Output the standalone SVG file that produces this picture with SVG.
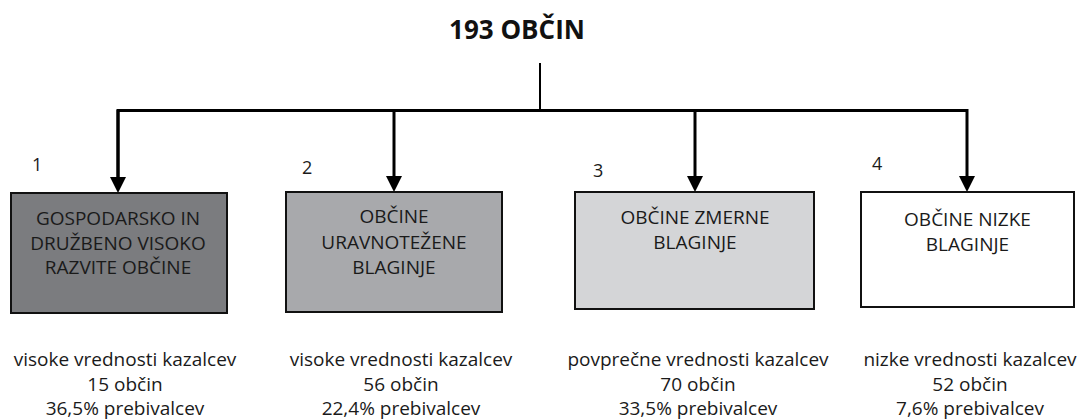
<svg xmlns="http://www.w3.org/2000/svg" width="1080" height="420" viewBox="0 0 1080 420">
<style>
  .t{font-family:"Open Sans","Noto Sans","DejaVu Sans",sans-serif;font-size:19px;fill:#1a1a1a;text-anchor:middle}
  .n{font-family:"Open Sans","Noto Sans","DejaVu Sans",sans-serif;font-size:18px;fill:#1a1a1a}
  .title{font-family:"Open Sans","Noto Sans","DejaVu Sans",sans-serif;font-size:26px;font-weight:bold;fill:#111;text-anchor:middle}
  .box{stroke:#111;stroke-width:2}
  .c{fill:none;stroke:#000;stroke-width:3}
</style>
<defs>
  <marker id="ah" viewBox="0 0 16 16" refX="0" refY="8" markerWidth="16" markerHeight="16" markerUnits="userSpaceOnUse" orient="auto">
    <path d="M0,0 L16,8 L0,16 z" fill="#000"/>
  </marker>
</defs>
<rect width="1080" height="420" fill="#fff"/>
<g id="title">
  <text class="title" x="517" y="39">193 OBČIN</text>
</g>
<g id="connectors">
  <line x1="540" y1="63" x2="540" y2="110" stroke="#000" stroke-width="2"/>
  <path class="c" d="M118,177 L118,110.5 L967,110.5 L967,176" marker-end="url(#ah)"/>
  <line class="c" x1="118" y1="110" x2="118" y2="177" marker-end="url(#ah)"/>
  <line class="c" x1="394" y1="110" x2="394" y2="176" marker-end="url(#ah)"/>
  <line class="c" x1="695" y1="110" x2="695" y2="176" marker-end="url(#ah)"/>
</g>
<g id="node1">
  <rect class="box" x="11" y="193" width="216" height="120" fill="#7b7c7f"/>
  <text class="t" x="118" y="225">GOSPODARSKO IN</text>
  <text class="t" x="118" y="250">DRUŽBENO VISOKO</text>
  <text class="t" x="118" y="274">RAZVITE OBČINE</text>
  <text class="n" x="32" y="171">1</text>
  <text class="t" x="125" y="366">visoke vrednosti kazalcev</text>
  <text class="t" x="125" y="391">15 občin</text>
  <text class="t" x="125" y="415">36,5% prebivalcev</text>
</g>
<g id="node2">
  <rect class="box" x="286" y="192" width="216" height="120" fill="#a8a9ac"/>
  <text class="t" x="394" y="223">OBČINE</text>
  <text class="t" x="394" y="248.5">URAVNOTEŽENE</text>
  <text class="t" x="394" y="274">BLAGINJE</text>
  <text class="n" x="302" y="174">2</text>
  <text class="t" x="401" y="366">visoke vrednosti kazalcev</text>
  <text class="t" x="401" y="391">56 občin</text>
  <text class="t" x="401" y="415">22,4% prebivalcev</text>
</g>
<g id="node3">
  <rect class="box" x="575" y="192" width="239" height="117" fill="#d4d5d7"/>
  <text class="t" x="695" y="224">OBČINE ZMERNE</text>
  <text class="t" x="695" y="249">BLAGINJE</text>
  <text class="n" x="593" y="177">3</text>
  <text class="t" x="698" y="366">povprečne vrednosti kazalcev</text>
  <text class="t" x="698" y="391">70 občin</text>
  <text class="t" x="698" y="415">33,5% prebivalcev</text>
</g>
<g id="node4">
  <rect class="box" x="861" y="192" width="213" height="115" fill="#fff"/>
  <text class="t" x="967.5" y="226">OBČINE NIZKE</text>
  <text class="t" x="967.5" y="251">BLAGINJE</text>
  <text class="n" x="872" y="170">4</text>
  <text class="t" x="970" y="366">nizke vrednosti kazalcev</text>
  <text class="t" x="970" y="391">52 občin</text>
  <text class="t" x="970" y="415">7,6% prebivalcev</text>
</g>
</svg>
